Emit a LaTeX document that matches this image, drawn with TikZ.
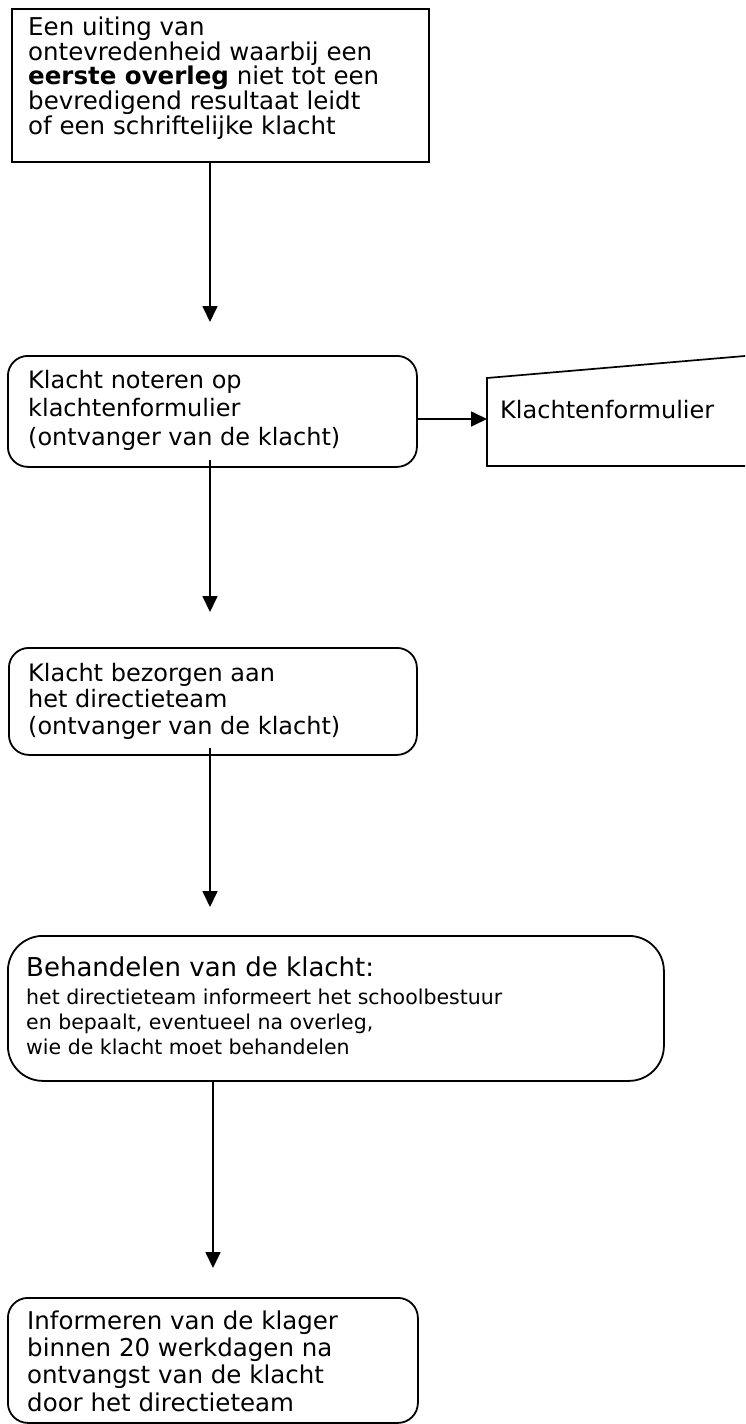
\documentclass[tikz,border=0pt]{standalone}
\usepackage{fontspec}
\setmainfont{DejaVu Sans}
\usetikzlibrary{calc,arrows.meta}
\tikzset{
  sqbox/.style={draw, line width=2pt, inner sep=0pt, anchor=north west},
  rbox/.style={draw, line width=1.8pt, rounded corners=20pt, inner sep=0pt, anchor=north west},
  bigrbox/.style={draw, line width=1.8pt, rounded corners=35pt, inner sep=0pt, anchor=north west},
  txt/.style={inner sep=0pt, align=left, anchor=north west},
  arr/.style={line width=1.7pt, -{Triangle[length=16pt,width=15pt]}},
  shapeline/.style={line width=1.7pt}
}
\begin{document}
\begin{tikzpicture}[x=1pt,y=-1pt]
\useasboundingbox (0,0) rectangle (745,1424);
\clip (0,0) rectangle (745,1424);

% box 1
\node[sqbox, minimum width=417pt, minimum height=153pt] (b1) at (11,8) {};
\node[txt, font=\fontsize{24.5}{24.8}\selectfont] (t1) at (28,15)
  {\rule{0pt}{20pt}Een uiting van\\ontevredenheid waarbij een\\\textbf{eerste overleg} niet tot een\\bevredigend resultaat leidt\\of een schriftelijke klacht};

% box 2
\node[rbox, minimum width=409pt, minimum height=111pt] (b2) at (7,355) {};
\node[txt, font=\fontsize{24}{28.5}\selectfont] (t2) at (28,368)
  {\rule{0pt}{20pt}Klacht noteren op\\klachtenformulier\\(ontvanger van de klacht)};

% Klachtenformulier (manual input shape)
\draw[shapeline] (487,466) -- (487,378) -- (760,354.7) -- (760,466) -- cycle;
\node[txt, anchor=base west, font=\fontsize{24}{29}\selectfont] (kf) at (500,418) {Klachtenformulier};
\coordinate (kfw) at (487,419);

% box 3
\node[rbox, minimum width=408pt, minimum height=107pt] (b3) at (8,647) {};
\node[txt, font=\fontsize{24}{26.5}\selectfont] (t3) at (28,661)
  {\rule{0pt}{20pt}Klacht bezorgen aan\\het directieteam\\(ontvanger van de klacht)};

% box 4
\node[bigrbox, minimum width=656pt, minimum height=145pt] (b4) at (7,935) {};
\node[txt, font=\fontsize{20.5}{25}\selectfont] (t4) at (26,954)
  {{\fontsize{26}{25}\selectfont\rule{0pt}{22pt}Behandelen van de klacht:}\\[3pt]het directieteam informeert het schoolbestuur\\en bepaalt, eventueel na overleg,\\wie de klacht moet behandelen};

% box 5
\node[rbox, minimum width=410pt, minimum height=125pt] (b5) at (7,1297) {};
\node[txt, font=\fontsize{24.5}{27.3}\selectfont] (t5) at (27,1309)
  {\rule{0pt}{20pt}Informeren van de klager\\binnen 20 werkdagen na\\ontvangst van de klacht\\door het directieteam};

% arrow tips (free ends)
\coordinate (a1) at (210,322);
\coordinate (a2) at (210,612);
\coordinate (a3) at (210,907);
\coordinate (a4) at (213,1268);

% connectors
\draw[arr] (b1.south -| a1) -- (a1);
\draw[arr] ($(b2.south -| a2)+(0,-8)$) -- (a2);
\draw[arr] ($(b3.south -| a3)+(0,-8)$) -- (a3);
\draw[arr] (b4.south -| a4) -- (a4);
\draw[arr] (b2.east |- kfw) -- (kfw);
\end{tikzpicture}
\end{document}
